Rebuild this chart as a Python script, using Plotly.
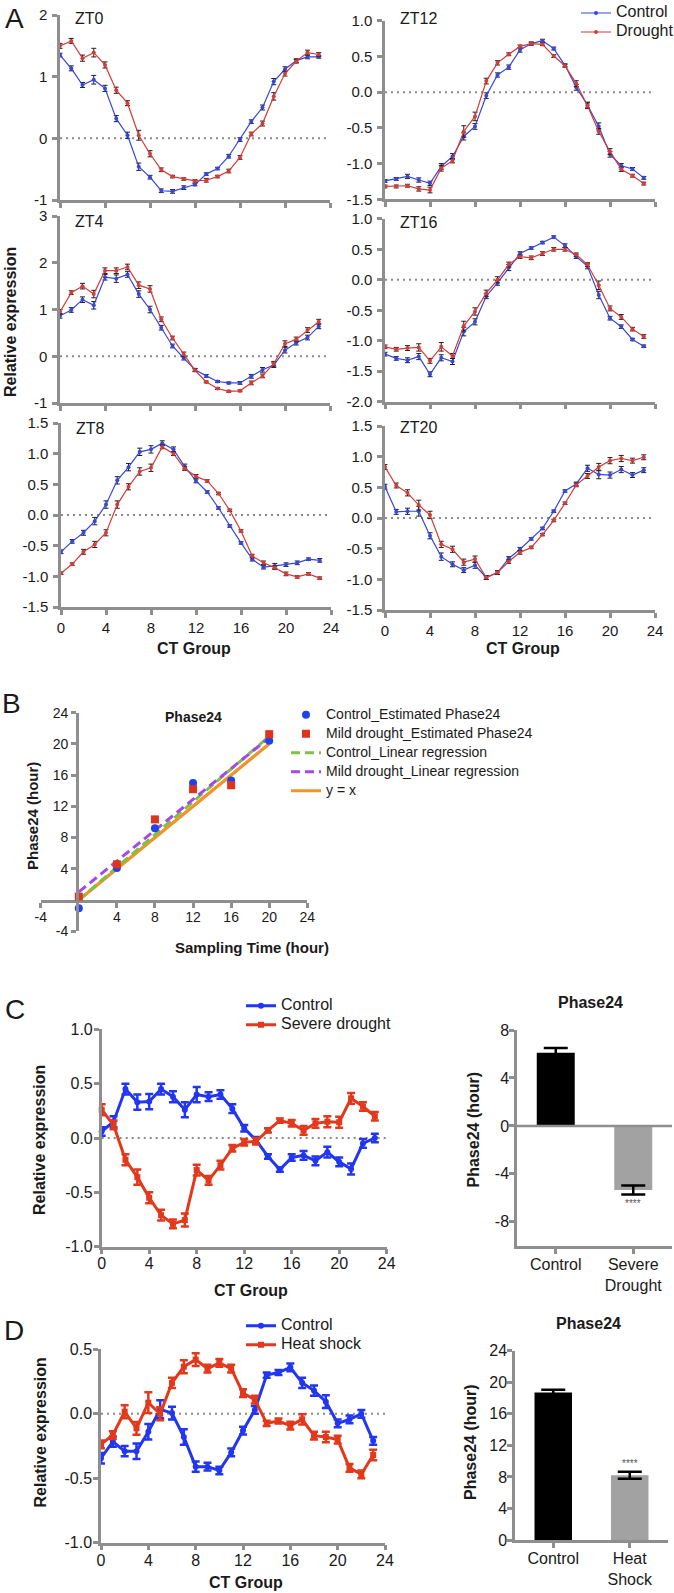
import numpy as np
import plotly.graph_objects as go

W, H = 674, 1593
FONT = "Liberation Sans, Arial, Helvetica, sans-serif"
GRAY = "#8e8e8e"
TXT = "#1a1a1a"

# ---------------- data ----------------
ct_hours = list(range(24))
ct_ticks = [0, 4, 8, 12, 16, 20, 24]

zt0_control = [1.35, 1.135, 0.865, 0.95, 0.81, 0.32, 0.05, -0.46, -0.63, -0.85, -0.86, -0.80,
               -0.75, -0.58, -0.49, -0.29, -0.02, 0.27, 0.50, 0.92, 1.12, 1.26, 1.32, 1.32]
zt0_control_err = [0.03, 0.04, 0.04, 0.07, 0.05, 0.05, 0.05, 0.06, 0.03, 0.03, 0.03, 0.03,
                   0.02, 0.02, 0.02, 0.03, 0.03, 0.03, 0.04, 0.05, 0.04, 0.03, 0.03, 0.02]
zt0_drought = [1.50, 1.58, 1.30, 1.39, 1.19, 0.78, 0.57, 0.05, -0.25, -0.51, -0.62, -0.66,
               -0.69, -0.68, -0.62, -0.53, -0.31, 0.07, 0.24, 0.68, 1.05, 1.25, 1.39, 1.36]
zt0_drought_err = [0.04, 0.04, 0.05, 0.07, 0.05, 0.05, 0.04, 0.08, 0.05, 0.03, 0.02, 0.02,
                   0.02, 0.03, 0.02, 0.03, 0.03, 0.03, 0.04, 0.06, 0.04, 0.03, 0.04, 0.03]

zt12_control = [-1.243, -1.215, -1.18, -1.23, -1.276, -1.04, -0.90, -0.62, -0.48, -0.05, 0.24, 0.35,
                0.59, 0.68, 0.72, 0.61, 0.375, 0.067, -0.18, -0.48, -0.87, -1.03, -1.075, -1.20]
zt12_control_err = [0.02, 0.02, 0.03, 0.03, 0.03, 0.04, 0.04, 0.05, 0.04, 0.04, 0.03, 0.03,
                    0.03, 0.02, 0.02, 0.02, 0.02, 0.04, 0.04, 0.05, 0.04, 0.03, 0.02, 0.02]
zt12_drought = [-1.32, -1.32, -1.31, -1.355, -1.37, -1.065, -0.96, -0.55, -0.34, 0.155, 0.41, 0.53,
                0.64, 0.68, 0.67, 0.505, 0.37, 0.12, -0.19, -0.55, -0.83, -1.08, -1.17, -1.28]
zt12_drought_err = [0.02, 0.02, 0.02, 0.03, 0.04, 0.04, 0.03, 0.08, 0.06, 0.04, 0.03, 0.02,
                    0.02, 0.02, 0.02, 0.02, 0.02, 0.04, 0.04, 0.04, 0.04, 0.03, 0.02, 0.02]

zt4_control = [0.865, 0.99, 1.21, 1.09, 1.69, 1.66, 1.75, 1.33, 1.0, 0.61, 0.22, -0.04,
               -0.29, -0.42, -0.54, -0.57, -0.57, -0.43, -0.29, -0.19, 0.13, 0.29, 0.40, 0.64]
zt4_control_err = [0.05, 0.05, 0.06, 0.08, 0.06, 0.08, 0.06, 0.07, 0.07, 0.05, 0.04, 0.04,
                   0.03, 0.03, 0.02, 0.02, 0.03, 0.04, 0.05, 0.05, 0.06, 0.05, 0.05, 0.05]
zt4_drought = [0.95, 1.36, 1.50, 1.33, 1.83, 1.83, 1.91, 1.52, 1.44, 0.79, 0.39, 0.04,
               -0.30, -0.55, -0.69, -0.75, -0.74, -0.57, -0.42, -0.16, 0.27, 0.36, 0.56, 0.74]
zt4_drought_err = [0.05, 0.04, 0.06, 0.08, 0.06, 0.06, 0.06, 0.07, 0.07, 0.05, 0.04, 0.05,
                   0.03, 0.02, 0.02, 0.02, 0.02, 0.04, 0.04, 0.05, 0.06, 0.05, 0.05, 0.05]

zt16_control = [-1.22, -1.29, -1.32, -1.26, -1.55, -1.28, -1.34, -0.85, -0.69, -0.27, -0.05, 0.20,
                0.43, 0.52, 0.61, 0.70, 0.56, 0.38, 0.22, -0.25, -0.63, -0.77, -0.98, -1.09]
zt16_control_err = [0.03, 0.03, 0.04, 0.05, 0.04, 0.05, 0.05, 0.07, 0.05, 0.04, 0.04, 0.05,
                    0.03, 0.02, 0.02, 0.02, 0.03, 0.03, 0.04, 0.06, 0.03, 0.03, 0.02, 0.02]
zt16_drought = [-1.10, -1.14, -1.12, -1.11, -1.33, -1.10, -1.25, -0.76, -0.52, -0.22, 0.0, 0.25,
                0.38, 0.36, 0.43, 0.50, 0.50, 0.41, 0.25, -0.09, -0.47, -0.61, -0.81, -0.93]
zt16_drought_err = [0.03, 0.03, 0.04, 0.06, 0.04, 0.07, 0.04, 0.08, 0.06, 0.05, 0.05, 0.04,
                    0.03, 0.03, 0.03, 0.03, 0.03, 0.03, 0.03, 0.07, 0.04, 0.04, 0.03, 0.03]

zt8_control = [-0.60, -0.43, -0.29, -0.10, 0.17, 0.565, 0.78, 1.03, 1.07, 1.17, 1.07, 0.79,
               0.555, 0.375, 0.114, -0.18, -0.455, -0.72, -0.85, -0.83, -0.81, -0.78, -0.72, -0.74]
zt8_control_err = [0.03, 0.03, 0.04, 0.06, 0.06, 0.06, 0.06, 0.06, 0.06, 0.04, 0.04, 0.04,
                   0.03, 0.02, 0.02, 0.02, 0.02, 0.03, 0.03, 0.04, 0.03, 0.03, 0.02, 0.03]
zt8_drought = [-0.95, -0.80, -0.60, -0.48, -0.29, 0.17, 0.46, 0.71, 0.77, 1.11, 1.0, 0.755,
               0.63, 0.555, 0.35, 0.076, -0.26, -0.67, -0.78, -0.86, -0.96, -1.01, -0.96, -1.03]
zt8_drought_err = [0.02, 0.02, 0.04, 0.05, 0.05, 0.06, 0.05, 0.06, 0.06, 0.03, 0.03, 0.03,
                   0.03, 0.02, 0.02, 0.02, 0.02, 0.03, 0.03, 0.03, 0.03, 0.02, 0.02, 0.02]

zt20_control = [0.51, 0.10, 0.11, 0.11, -0.29, -0.63, -0.755, -0.85, -0.77, -0.97, -0.89, -0.66,
                -0.51, -0.34, -0.17, 0.11, 0.44, 0.555, 0.81, 0.71, 0.70, 0.79, 0.70, 0.78]
zt20_control_err = [0.04, 0.04, 0.05, 0.08, 0.05, 0.06, 0.04, 0.04, 0.05, 0.03, 0.03, 0.03,
                    0.03, 0.02, 0.02, 0.02, 0.02, 0.03, 0.05, 0.07, 0.05, 0.05, 0.04, 0.04]
zt20_drought = [0.83, 0.53, 0.41, 0.21, 0.05, -0.43, -0.51, -0.72, -0.67, -0.97, -0.89, -0.71,
                -0.56, -0.48, -0.27, -0.04, 0.24, 0.54, 0.685, 0.83, 0.935, 0.97, 0.935, 0.99]
zt20_drought_err = [0.04, 0.04, 0.05, 0.08, 0.06, 0.05, 0.05, 0.05, 0.05, 0.03, 0.03, 0.03,
                    0.03, 0.02, 0.02, 0.02, 0.02, 0.03, 0.04, 0.06, 0.05, 0.05, 0.04, 0.04]

zt0_yticks = [-1, 0, 1, 2]
zt4_yticks = [-1, 0, 1, 2, 3]
zt8_yticks = [-1.5, -1.0, -0.5, 0.0, 0.5, 1.0, 1.5]
zt12_yticks = [-1.5, -1.0, -0.5, 0.0, 0.5, 1.0]
zt16_yticks = [-2.0, -1.5, -1.0, -0.5, 0.0, 0.5, 1.0]
zt20_yticks = [-1.5, -1.0, -0.5, 0.0, 0.5, 1.0, 1.5]

# Panel B
sampling_time = [0, 4, 8, 12, 16, 20]
control_phase24 = [-1.07, 4.1, 9.2, 15.0, 15.3, 20.4]
mild_phase24 = [0.43, 4.57, 10.33, 14.2, 14.7, 21.25]
b_ticks = [-4, 4, 8, 12, 16, 20, 24]

# Panel C
c_control = [0.06, 0.15, 0.45, 0.33, 0.335, 0.45, 0.38, 0.26, 0.40, 0.38, 0.40, 0.27,
             0.09, -0.02, -0.17, -0.29, -0.18, -0.16, -0.21, -0.13, -0.22, -0.285, -0.05, 0.0]
c_control_err = [0.04, 0.05, 0.05, 0.07, 0.07, 0.05, 0.05, 0.07, 0.07, 0.04, 0.04, 0.04,
                 0.03, 0.03, 0.02, 0.02, 0.03, 0.04, 0.04, 0.05, 0.04, 0.05, 0.04, 0.04]
c_severe = [0.26, 0.12, -0.20, -0.36, -0.55, -0.71, -0.79, -0.755, -0.295, -0.39, -0.25, -0.095,
            -0.04, -0.03, 0.07, 0.16, 0.135, 0.07, 0.135, 0.15, 0.145, 0.365, 0.29, 0.20]
c_severe_err = [0.05, 0.04, 0.05, 0.07, 0.05, 0.05, 0.04, 0.06, 0.05, 0.04, 0.04, 0.03,
                0.03, 0.03, 0.02, 0.02, 0.03, 0.04, 0.04, 0.05, 0.05, 0.05, 0.04, 0.04]
c_yticks = [-1.0, -0.5, 0.0, 0.5, 1.0]

c_bar_labels = ["Control", "Severe<br>Drought"]
c_bar_values = [6.1, -5.35]
c_bar_err = [0.4, 0.38]
c_bar_yticks = [-8, -4, 0, 4, 8]

# Panel D
d_control = [-0.345, -0.216, -0.29, -0.29, -0.14, 0.035, 0.005, -0.18, -0.41, -0.41, -0.44, -0.30,
             -0.13, 0.03, 0.30, 0.32, 0.36, 0.24, 0.18, 0.094, -0.074, -0.043, 0.0, -0.21]
d_control_err = [0.04, 0.04, 0.04, 0.06, 0.06, 0.07, 0.05, 0.06, 0.04, 0.03, 0.03, 0.03,
                 0.03, 0.03, 0.02, 0.02, 0.03, 0.04, 0.04, 0.05, 0.03, 0.03, 0.03, 0.03]
d_heat = [-0.237, -0.165, 0.016, -0.113, 0.086, 0.0, 0.24, 0.365, 0.42, 0.35, 0.395, 0.35,
          0.16, 0.11, -0.074, -0.056, -0.092, -0.043, -0.17, -0.18, -0.20, -0.42, -0.47, -0.32]
d_heat_err = [0.03, 0.03, 0.05, 0.05, 0.08, 0.05, 0.04, 0.05, 0.05, 0.03, 0.03, 0.03,
              0.03, 0.03, 0.02, 0.02, 0.03, 0.04, 0.03, 0.04, 0.03, 0.03, 0.03, 0.04]
d_yticks = [-1.0, -0.5, 0.0, 0.5]

d_bar_labels = ["Control", "Heat<br>Shock"]
d_bar_values = [18.7, 8.2]
d_bar_err = [0.35, 0.45]
d_bar_yticks = [0, 4, 8, 12, 16, 20, 24]

# ---------------- helpers ----------------
def xdom(a, b):
    return [a / W, b / W]


def ydom(t, b):
    return [1 - b / H, 1 - t / H]


def pxx(a):
    return a / W


def pxy(b):
    return 1 - b / H


def fmt(v, d):
    return f"{v:.{d}f}"


def axis(**kw):
    d = dict(showline=True, linecolor=GRAY, linewidth=2.5, ticks="outside", ticklen=5,
             tickwidth=2.5, tickcolor=GRAY, showgrid=False, zeroline=False,
             tickfont=dict(family=FONT, size=15, color=TXT))
    d.update(kw)
    return d


def ax_key(kind, i):
    return kind + "axis" + ("" if i == 1 else str(i))


def ref(kind, i):
    return kind + ("" if i == 1 else str(i))


def lg(text, size):
    return f'<span style="font-size:{size}px">{text}</span>'


fig = go.Figure()
layout = {}
shapes = []
annotations = []


def add_text(x, y, text, size, bold=False, angle=0, xanchor="center", yanchor="middle", color=TXT):
    annotations.append(dict(
        x=pxx(x), y=pxy(y), xref="paper", yref="paper", showarrow=False,
        text=f"<b>{text}</b>" if bold else text, textangle=angle,
        xanchor=xanchor, yanchor=yanchor,
        font=dict(family=FONT, size=size, color=color)))


def dotted_zero(i):
    shapes.append(dict(type="line", xref=f"{ref('x', i)} domain", yref=ref("y", i),
                       x0=0, x1=1, y0=0, y1=0, layer="below",
                       line=dict(color="#8a8a8a", width=2, dash="2px,4px")))

# ---------------- Panel A ----------------
A_BLUE = "#3547de"
A_RED = "#d63b35"
ERRC = "#202020"

panels_A = [
    (1, "ZT0", zt0_control, zt0_control_err, zt0_drought, zt0_drought_err,
     (60, 330), (15, 200), [-1, 2], zt0_yticks, 0, False, 18),
    (2, "ZT12", zt12_control, zt12_control_err, zt12_drought, zt12_drought_err,
     (385, 655), (20.7, 199.3), [-1.5, 1.0], zt12_yticks, 1, False, 18.3),
    (3, "ZT4", zt4_control, zt4_control_err, zt4_drought, zt4_drought_err,
     (60, 330), (216, 403), [-1, 3], zt4_yticks, 0, False, 221),
    (4, "ZT16", zt16_control, zt16_control_err, zt16_drought, zt16_drought_err,
     (385, 655), (218.8, 401.7), [-2, 1], zt16_yticks, 1, False, 222),
    (5, "ZT8", zt8_control, zt8_control_err, zt8_drought, zt8_drought_err,
     (61, 331), (423, 607), [-1.5, 1.5], zt8_yticks, 1, True, 429),
    (6, "ZT20", zt20_control, zt20_control_err, zt20_drought, zt20_drought_err,
     (385, 655), (426, 610), [-1.5, 1.5], zt20_yticks, 1, True, 427),
]

for (i, title, ctrl, ctrl_e, drt, drt_e, xd, yd, yr, yt, dec, xlab, ty) in panels_A:
    xa, ya = ref("x", i), ref("y", i)
    for vals, errs, col, nm in ((ctrl, ctrl_e, A_BLUE, "Control"), (drt, drt_e, A_RED, "Drought")):
        fig.add_trace(go.Scatter(
            x=ct_hours, y=vals, mode="lines+markers", name=lg(nm, 16),
            line=dict(color=col, width=1.2), marker=dict(size=4, color=col),
            error_y=dict(type="data", array=errs, color=ERRC, thickness=1, width=2.5),
            xaxis=xa, yaxis=ya, cliponaxis=False, showlegend=(i == 1), legend="legend",
            legendgroup=nm))
    layout[ax_key("x", i)] = axis(domain=xdom(*xd), range=[0, 24], anchor=ya,
                                  tickmode="array", tickvals=ct_ticks,
                                  ticktext=[str(v) for v in ct_ticks], showticklabels=xlab,
                                  ticklabelstandoff=0)
    layout[ax_key("y", i)] = axis(domain=ydom(*yd), range=yr, anchor=xa,
                                  tickmode="array", tickvals=yt,
                                  ticktext=[fmt(v, dec) for v in yt], ticklabelstandoff=2)
    dotted_zero(i)
    add_text(xd[0] + 13, ty, title, 16, xanchor="left")

add_text(14, 18, "A", 28)
add_text(10, 322, "Relative expression", 16, bold=True, angle=-90)
add_text(194, 648, "CT Group", 16, bold=True)
add_text(523, 648, "CT Group", 16, bold=True)

# ---------------- Panel B ----------------
B_BLUE = "#1f42ee"
B_RED = "#e0331c"
B_GREEN = "#7cc245"
B_PURPLE = "#a449e8"
B_ORANGE = "#f0952c"

B_X0, B_X1 = 40.7, 307.3      # pixels of x = -4 and x = 24
B_Y0, B_Y1 = 712.7, 931.2     # pixels of y = 24 and y = -4
B_XZERO = B_X0 + 4 * (B_X1 - B_X0) / 28   # pixel where x = 0 (y axis crosses)
B_YZERO = B_Y1 - 4 * (B_Y1 - B_Y0) / 28   # pixel where y = 0 (x axis crosses)
B_TICKFONT = dict(family=FONT, size=14, color=TXT)

ctrl_fit = np.polyfit(sampling_time, control_phase24, 1)
mild_fit = np.polyfit(sampling_time, mild_phase24, 1)
fit_x = [sampling_time[0], sampling_time[-1]]

# All panel-B traces live on the subplot (x13, y12): x13 spans x = 0..24, y12 spans y = -4..24.
b_traces = [
    go.Scatter(x=fit_x, y=fit_x, mode="lines", name=lg("y = x", 14),
               line=dict(color=B_ORANGE, width=3), legendrank=5, legendgroup="b5"),
    go.Scatter(x=fit_x, y=list(np.polyval(ctrl_fit, fit_x)), mode="lines",
               name=lg("Control_Linear regression", 14),
               line=dict(color=B_GREEN, width=3, dash="9px,5px"), legendrank=3, legendgroup="b3"),
    go.Scatter(x=fit_x, y=list(np.polyval(mild_fit, fit_x)), mode="lines",
               name=lg("Mild drought_Linear regression", 14),
               line=dict(color=B_PURPLE, width=3, dash="9px,5px"), legendrank=4, legendgroup="b4"),
    go.Scatter(x=sampling_time, y=control_phase24, mode="markers",
               name=lg("Control_Estimated Phase24", 14),
               marker=dict(color=B_BLUE, size=8, symbol="circle"), cliponaxis=False,
               legendrank=1, legendgroup="b1"),
    go.Scatter(x=sampling_time, y=mild_phase24, mode="markers",
               name=lg("Mild drought_Estimated Phase24", 14),
               marker=dict(color=B_RED, size=8, symbol="square"), cliponaxis=False,
               legendrank=2, legendgroup="b2"),
]
for tr in b_traces:
    tr.update(xaxis="x13", yaxis="y12", legend="legend2")
    fig.add_trace(tr)
# A hidden copy of the y = x line that creates the subplot holding the visible x axis (x12).
fig.add_trace(go.Scatter(x=fit_x, y=fit_x, mode="lines", line=dict(color=B_ORANGE, width=3),
                         xaxis="x12", yaxis="y13", showlegend=False, hoverinfo="skip"))

# visible x axis (-4..24), anchored to hidden y13 whose bottom edge is at y = 0
layout["xaxis12"] = axis(domain=xdom(B_X0, B_X1), range=[-4, 24], anchor="y13",
                         tickmode="array", tickvals=b_ticks, ticktext=[str(v) for v in b_ticks],
                         tickfont=B_TICKFONT, ticklabelstandoff=-3)
layout["yaxis13"] = dict(domain=ydom(B_Y0, B_YZERO), range=[0, 24], anchor="x12",
                         visible=False, showgrid=False, zeroline=False)
# visible y axis (-4..24), anchored to hidden x13 whose left edge is at x = 0
layout["yaxis12"] = axis(domain=ydom(B_Y0, B_Y1), range=[-4, 24], anchor="x13",
                         tickmode="array", tickvals=b_ticks, ticktext=[str(v) for v in b_ticks],
                         tickfont=B_TICKFONT, ticklabelstandoff=0)
layout["xaxis13"] = dict(domain=xdom(B_XZERO, B_X1), range=[0, 24], anchor="y12",
                         visible=False, showgrid=False, zeroline=False)

add_text(11, 704, "B", 28)
add_text(193, 717, "Phase24", 14, bold=True)
add_text(32, 816, "Phase24 (hour)", 15, bold=True, angle=-90)
add_text(252, 947, "Sampling Time (hour)", 15, bold=True)

# ---------------- Panel C / D line charts ----------------
CD_BLUE = "#2236f0"
CD_RED = "#e2381c"


def add_cd_line(i, ctrl, ctrl_e, other, other_e, other_name, leg, xd, yd, yr, yt, xstand):
    xa, ya = ref("x", i), ref("y", i)
    for vals, errs, col, nm, sym, grp in ((ctrl, ctrl_e, CD_BLUE, "Control", "circle", "g1"),
                                          (other, other_e, CD_RED, other_name, "square", "g2")):
        fig.add_trace(go.Scatter(
            x=ct_hours, y=vals, mode="lines+markers", name=lg(nm, 16),
            line=dict(color=col, width=3), marker=dict(size=6, color=col, symbol=sym),
            error_y=dict(type="data", array=errs, color=col, thickness=2.5, width=4),
            xaxis=xa, yaxis=ya, cliponaxis=False, legend=leg, legendgroup=grp + leg))
    layout[ax_key("x", i)] = axis(domain=xdom(*xd), range=[0, 24], anchor=ya,
                                  tickmode="array", tickvals=ct_ticks,
                                  ticktext=[str(v) for v in ct_ticks],
                                  tickfont=dict(family=FONT, size=16, color=TXT),
                                  ticklabelstandoff=xstand)
    layout[ax_key("y", i)] = axis(domain=ydom(*yd), range=yr, anchor=xa,
                                  tickmode="array", tickvals=yt,
                                  ticktext=[fmt(v, 1) for v in yt],
                                  tickfont=dict(family=FONT, size=16, color=TXT),
                                  ticklabelstandoff=-2)
    dotted_zero(i)


add_cd_line(8, c_control, c_control_err, c_severe, c_severe_err, "Severe drought", "legend3",
            (101.7, 386.7), (1029.3, 1246.7), [-1, 1], c_yticks, -5)
add_cd_line(10, d_control, d_control_err, d_heat, d_heat_err, "Heat shock", "legend4",
            (101, 385), (1349.3, 1542.7), [-1, 0.5], d_yticks, -4)

add_text(15, 1010, "C", 28)
add_text(39, 1140, "Relative expression", 16, bold=True, angle=-90)
add_text(251, 1290, "CT Group", 16, bold=True)
add_text(14, 1330, "D", 28)
add_text(39.5, 1433, "Relative expression", 16, bold=True, angle=-90)
add_text(246, 1582, "CT Group", 16, bold=True)

# ---------------- Bar charts ----------------


def add_bar(i, labels, vals, errs, xd, yd, yr, yt, star_below):
    xa, ya = ref("x", i), ref("y", i)
    fig.add_trace(go.Bar(
        x=labels, y=vals, width=0.49, showlegend=False,
        marker=dict(color=["#000000", "#a2a2a2"], line=dict(width=0)),
        error_y=dict(type="data", array=errs, color="#000000", thickness=2.5, width=12),
        xaxis=xa, yaxis=ya))
    layout[ax_key("x", i)] = axis(domain=xdom(*xd), anchor=ya, type="category",
                                  range=[-0.5, 1.5],
                                  tickfont=dict(family=FONT, size=16, color=TXT),
                                  ticklabelstandoff=-3)
    layout[ax_key("y", i)] = axis(domain=ydom(*yd), range=yr, anchor=xa,
                                  tickmode="array", tickvals=yt,
                                  ticktext=[str(v) for v in yt],
                                  tickfont=dict(family=FONT, size=16, color=TXT),
                                  ticklabelstandoff=-3)
    if star_below:
        annotations.append(dict(x=1, y=vals[1] - errs[1], xref=xa, yref=ya, text="****",
                                showarrow=False, yanchor="top", yshift=-1,
                                font=dict(family=FONT, size=10, color="#555555")))
    else:
        annotations.append(dict(x=1, y=vals[1] + errs[1], xref=xa, yref=ya, text="****",
                                showarrow=False, yanchor="bottom", yshift=1,
                                font=dict(family=FONT, size=10, color="#555555")))


add_bar(9, c_bar_labels, c_bar_values, c_bar_err, (517, 672), (1030, 1245.8), [-10, 8],
        c_bar_yticks, True)
shapes.append(dict(type="line", xref="x9 domain", yref="y9", x0=0, x1=1, y0=0, y1=0,
                   line=dict(color=GRAY, width=2.5), layer="above"))
add_bar(11, d_bar_labels, d_bar_values, d_bar_err, (515, 668), (1350.7, 1540), [0, 24],
        d_bar_yticks, False)

add_text(590, 1002, "Phase24", 16, bold=True)
add_text(472.5, 1130, "Phase24 (hour)", 16, bold=True, angle=-90)
add_text(588, 1323, "Phase24", 16, bold=True)
add_text(470, 1442, "Phase24 (hour)", 16, bold=True, angle=-90)

# ---------------- legends & layout ----------------


def legend_at(text_x, first_row_y):
    return dict(x=pxx(text_x - 39), y=pxy(first_row_y - 11.5), xanchor="left", yanchor="top",
                bgcolor="rgba(0,0,0,0)", borderwidth=0, tracegroupgap=0,
                font=dict(family=FONT, size=11, color=TXT))


fig.update_layout(
    width=W, height=H,
    margin=dict(l=0, r=0, t=0, b=0, pad=0, autoexpand=False),
    paper_bgcolor="white", plot_bgcolor="rgba(0,0,0,0)",
    font=dict(family=FONT, color=TXT),
    shapes=shapes, annotations=annotations,
    legend=legend_at(615, 10),
    legend2=legend_at(325, 711.7),
    legend3=legend_at(280, 1002.7),
    legend4=legend_at(280, 1322.7),
    bargap=0.5,
    **layout,
)

fig.write_html("out.html", config={"displayModeBar": False},
               post_script="document.body.style.margin='0px';"
                           "document.body.style.overflow='hidden';")
